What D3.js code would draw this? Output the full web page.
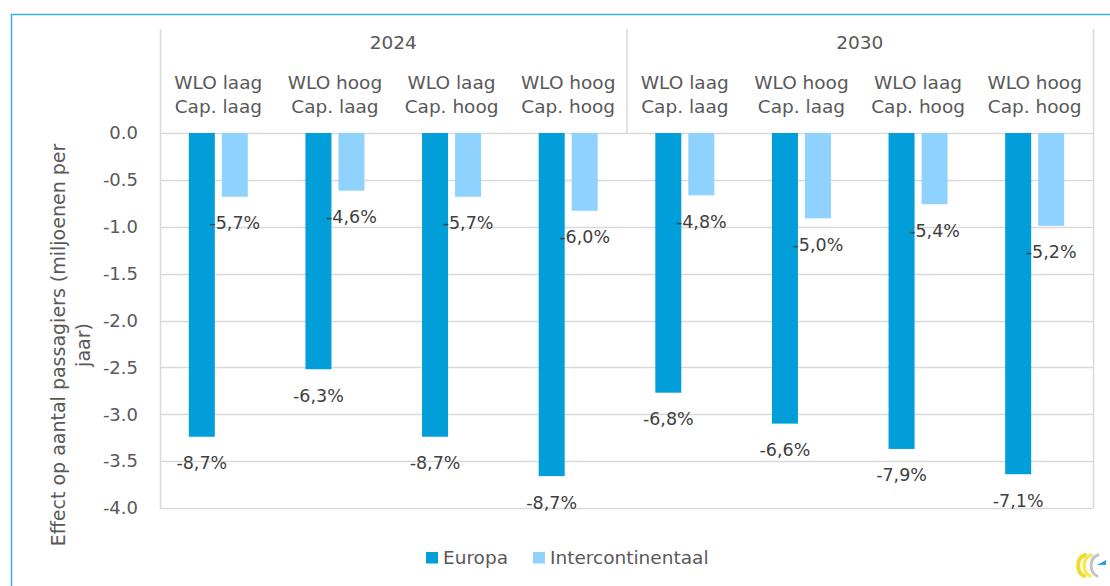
<!DOCTYPE html>
<html>
<head>
<meta charset="utf-8">
<script src="https://cdn.jsdelivr.net/npm/d3@7"></script>
<style>
  body { margin: 0; background: #fff; }
  svg text { font-family: "DejaVu Sans", sans-serif; }
</style>
</head>
<body>
<div id="chart"></div>
<script>
// data
const years = ['2024', '2030'];
const scenarios = [
  ['WLO laag', 'Cap. laag'],
  ['WLO hoog', 'Cap. laag'],
  ['WLO laag', 'Cap. hoog'],
  ['WLO hoog', 'Cap. hoog']
];
const seriesNames = ['Europa', 'Intercontinentaal'];
const europa = [-3.24, -2.52, -3.24, -3.66, -2.77, -3.10, -3.37, -3.64];
const intercontinentaal = [-0.68, -0.615, -0.68, -0.83, -0.665, -0.91, -0.76, -0.99];
const europaPct = [-8.7, -6.3, -8.7, -8.7, -6.8, -6.6, -7.9, -7.1];
const interPct = [-5.7, -4.6, -5.7, -6.0, -4.8, -5.0, -5.4, -5.2];
const yTicks = [0, -0.5, -1, -1.5, -2, -2.5, -3, -3.5, -4];

const colors = { Europa: '#019ed9', Intercontinentaal: '#8fd2fe' };
const gridColor = '#d9d9d9';
const textColor = '#595959';

const width = 1110, height = 586;
const plot = { left: 160, right: 1093, top: 133, bottom: 508, headerTop: 29 };

const categories = d3.range(years.length * scenarios.length);
const rows = categories.map(i => ({
  i,
  year: years[Math.floor(i / scenarios.length)],
  scen: scenarios[i % scenarios.length],
  values: [
    { key: 'Europa', value: europa[i], pct: europaPct[i] },
    { key: 'Intercontinentaal', value: intercontinentaal[i], pct: interPct[i] }
  ]
}));

const svg = d3.select('#chart').append('svg')
  .attr('width', width)
  .attr('height', height);

// outer frame
svg.append('path')
  .attr('d', `M11.5,${height} V14.5 H${width}`)
  .attr('fill', 'none')
  .attr('stroke', '#3aafe2')
  .attr('stroke-width', 1.5);

const xScale = d3.scaleBand()
  .domain(categories)
  .range([plot.left, plot.right]);

const xYear = d3.scaleBand()
  .domain(years)
  .range([plot.left, plot.right]);

const xSeries = d3.scaleBand()
  .domain(seriesNames)
  .range([-29.5, 29.5])
  .paddingInner(7 / 33);

const yScale = d3.scaleLinear()
  .domain([-4, 0])
  .range([plot.bottom, plot.top]);

// gridlines
svg.append('g')
  .selectAll('line')
  .data(yTicks)
  .join('line')
  .attr('x1', plot.left)
  .attr('x2', plot.right)
  .attr('y1', d => Math.round(yScale(d)) + 0.5)
  .attr('y2', d => Math.round(yScale(d)) + 0.5)
  .attr('stroke', gridColor)
  .attr('stroke-width', 1.5);

// plot frame + header lines
const frame = svg.append('g')
  .attr('stroke', gridColor)
  .attr('stroke-width', 1.5);
frame.append('line')
  .attr('x1', plot.left + 0.5).attr('x2', plot.left + 0.5)
  .attr('y1', plot.headerTop).attr('y2', plot.bottom + 0.5);
frame.append('line')
  .attr('x1', plot.right + 0.5).attr('x2', plot.right + 0.5)
  .attr('y1', plot.headerTop).attr('y2', plot.bottom + 0.5);
frame.append('line')
  .attr('x1', xYear('2030') + 0.5).attr('x2', xYear('2030') + 0.5)
  .attr('y1', plot.headerTop).attr('y2', plot.top);

// y axis
const yAxis = d3.axisLeft(yScale)
  .tickValues(yTicks)
  .tickSize(0)
  .tickPadding(22)
  .tickFormat(d => d.toFixed(1));

svg.append('g')
  .attr('transform', `translate(${plot.left},0)`)
  .call(yAxis)
  .call(g => g.select('.domain').remove())
  .call(g => g.selectAll('text')
    .attr('fill', textColor)
    .style('font-size', '18px'));

// y axis title
const yTitle = svg.append('text')
  .attr('transform', 'translate(0,345) rotate(-90)')
  .attr('text-anchor', 'middle')
  .attr('fill', textColor)
  .style('font-size', '19px');
yTitle.append('tspan').attr('x', 0).attr('y', 65)
  .text('Effect op aantal passagiers (miljoenen per');
yTitle.append('tspan').attr('x', 0).attr('y', 90)
  .text('jaar)');

// header: years
svg.append('g')
  .selectAll('text')
  .data(years)
  .join('text')
  .attr('x', d => xYear(d) + xYear.bandwidth() / 2)
  .attr('y', 49)
  .attr('text-anchor', 'middle')
  .attr('fill', textColor)
  .style('font-size', '18.5px')
  .text(d => d);

// header: scenarios
const scen = svg.append('g')
  .selectAll('text')
  .data(rows)
  .join('text')
  .attr('text-anchor', 'middle')
  .attr('fill', textColor)
  .style('font-size', '18.5px');
scen.append('tspan')
  .attr('x', d => xScale(d.i) + xScale.bandwidth() / 2)
  .attr('y', 89)
  .text(d => d.scen[0]);
scen.append('tspan')
  .attr('x', d => xScale(d.i) + xScale.bandwidth() / 2)
  .attr('y', 113)
  .text(d => d.scen[1]);

// bars
const groups = svg.append('g')
  .selectAll('g')
  .data(rows)
  .join('g')
  .attr('transform', d => `translate(${xScale(d.i) + xScale.bandwidth() / 2},0)`);

groups.selectAll('rect')
  .data(d => d.values)
  .join('rect')
  .attr('x', d => xSeries(d.key))
  .attr('width', xSeries.bandwidth())
  .attr('y', yScale(0))
  .attr('height', d => yScale(d.value) - yScale(0))
  .attr('fill', d => colors[d.key]);

// data labels
const fmtPct = v => v.toFixed(1).replace('.', ',') + '%';
svg.append('g')
  .selectAll('g')
  .data(rows)
  .join('g')
  .attr('transform', d => `translate(${xScale(d.i) + xScale.bandwidth() / 2},0)`)
  .selectAll('text')
  .data(d => d.values)
  .join('text')
  .attr('x', d => xSeries(d.key) + xSeries.bandwidth() / 2)
  .attr('y', d => yScale(d.value) + 32.5)
  .attr('text-anchor', 'middle')
  .attr('fill', '#404040')
  .style('font-size', '17.5px')
  .text(d => fmtPct(d.pct));

// legend
const legend = svg.append('g')
  .attr('transform', 'translate(426,552)');
const legendItems = legend.selectAll('g')
  .data(seriesNames)
  .join('g')
  .attr('transform', (d, i) => `translate(${i * 107},0)`);
legendItems.append('rect')
  .attr('width', 12)
  .attr('height', 11.5)
  .attr('fill', d => colors[d]);
legendItems.append('text')
  .attr('x', 17)
  .attr('y', 12)
  .attr('fill', textColor)
  .style('font-size', '18.5px')
  .text(d => d);

// logo
const logo = svg.append('g')
  .attr('transform', 'translate(1075,552)')
  .attr('fill', 'none')
  .attr('stroke-linecap', 'round');
logo.append('path')
  .attr('d', 'M10,3 C1,6 1,20 9,24')
  .attr('stroke', '#f0dc30')
  .attr('stroke-width', 4);
logo.append('path')
  .attr('d', 'M16,3 C7,6 7,20 15,24')
  .attr('stroke', '#f6e75a')
  .attr('stroke-width', 3.5);
logo.append('path')
  .attr('d', 'M23,3 C14,6 14,20 22,24')
  .attr('stroke', '#c4c4c4')
  .attr('stroke-width', 3);
logo.append('path')
  .attr('d', 'M22,13 L31,8 L31,13 Z')
  .attr('fill', '#29a3e0')
  .attr('stroke', 'none');
</script>
</body>
</html>
